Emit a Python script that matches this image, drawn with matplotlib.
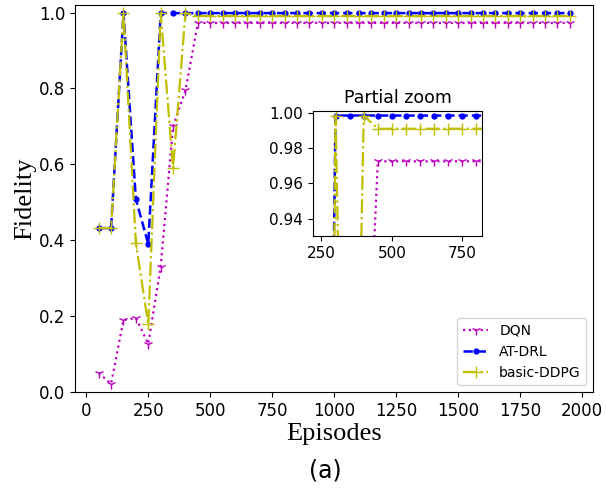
import matplotlib
matplotlib.use("Agg")
import matplotlib.pyplot as plt

# Episodes sampled every 50
episodes = list(range(50, 2000, 50))

dqn_head = [0.05, 0.022, 0.19, 0.195, 0.127, 0.33, 0.70, 0.795]
atdrl_head = [0.432, 0.432, 0.9985, 0.508, 0.39, 0.9985]
ddpg_head = [0.432, 0.432, 0.9985, 0.392, 0.178, 0.9985, 0.59, 0.9985]

dqn = dqn_head + [0.9725] * (len(episodes) - len(dqn_head))
atdrl = atdrl_head + [0.9985] * (len(episodes) - len(atdrl_head))
ddpg = ddpg_head + [0.991] * (len(episodes) - len(ddpg_head))

fig = plt.figure(figsize=(6.06, 4.95), dpi=100)
ax = fig.add_axes([0.124, 0.208, 0.855, 0.782])


def draw(a):
    a.plot(episodes, dqn, color='m', linestyle=':', marker='1', markersize=7, lw=1.6, label='DQN')
    a.plot(episodes, atdrl, color='b', linestyle='--', marker='.', markersize=7, lw=1.8, label='AT-DRL')
    a.plot(episodes, ddpg, color='y', linestyle='-.', marker='+', markersize=8, lw=1.6, label='basic-DDPG')


draw(ax)
ax.set_xlim(-45, 2045)
ax.set_ylim(0, 1.02)
ax.set_xticks(range(0, 2001, 250))
ax.tick_params(labelsize=12)
ax.set_xlabel('Episodes', family='Liberation Serif', fontsize=19, labelpad=2)
ax.set_ylabel('Fidelity', family='Liberation Serif', fontsize=19, labelpad=2)
ax.legend(loc='lower right', fontsize=10, handlelength=1.8)

# inset
ins = fig.add_axes([0.5165, 0.523, 0.279, 0.2525])
draw(ins)
ins.set_xlim(220, 820)
ins.set_ylim(0.93, 1.001)
ins.set_xticks([250, 500, 750])
ins.set_yticks([0.94, 0.96, 0.98, 1.00])
ins.tick_params(labelsize=11)
ins.set_title('Partial zoom', fontsize=12.5)

fig.text(0.537, 0.035, '(a)', ha='center', fontsize=17)

plt.savefig('out.png', dpi=100)
